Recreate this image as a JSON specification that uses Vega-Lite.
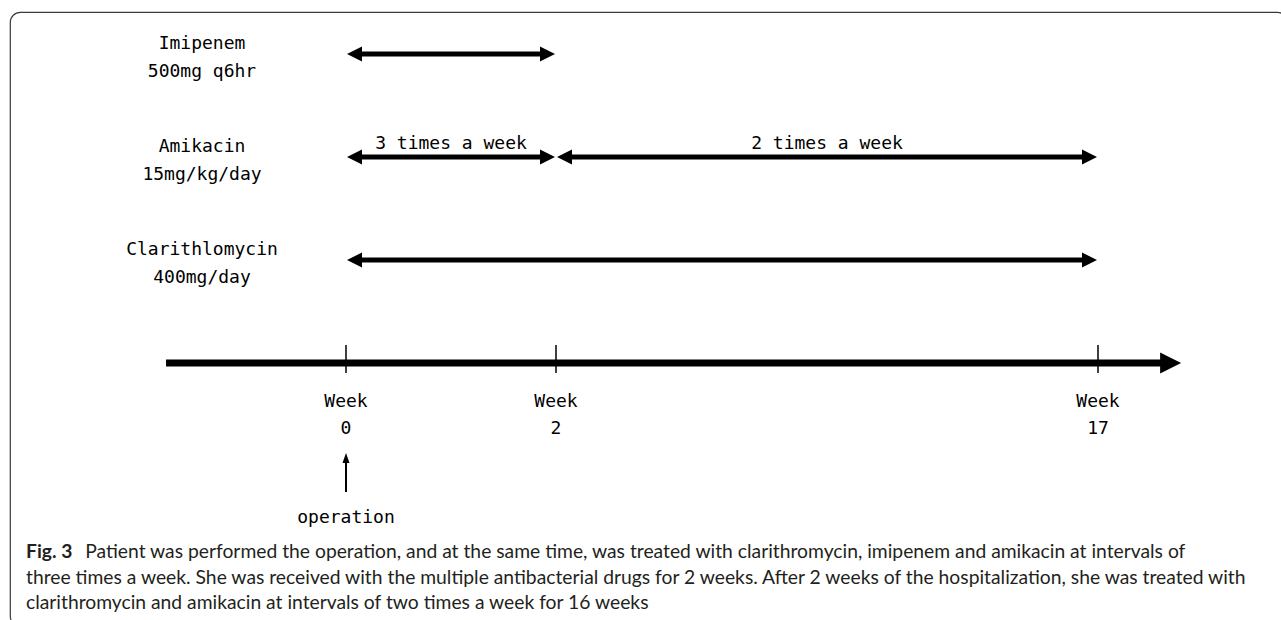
{
  "$schema": "https://vega.github.io/schema/vega-lite/v6.json",
  "width": 1281,
  "height": 620,
  "autosize": {"type": "fit", "contains": "padding"},
  "padding": {"left": 10, "top": 12, "right": -6, "bottom": -6},
  "background": "white",
  "title": {
    "text": "Fig. 3",
    "subtitle": [
      "\u200b\u00a0\u00a0\u00a0\u00a0\u00a0\u00a0\u00a0\u00a0\u00a0\u00a0\u00a0\u00a0Patient was performed the operation, and at the same time, was treated with clarithromycin, imipenem and amikacin at intervals of",
      "three times a week. She was received with the multiple antibacterial drugs for 2 weeks. After 2 weeks of the hospitalization, she was treated with",
      "clarithromycin and amikacin at intervals of two times a week for 16 weeks"
    ],
    "orient": "bottom",
    "anchor": "start",
    "frame": "group",
    "offset": -83,
    "dx": 16,
    "font": "Lato",
    "fontSize": 19.3,
    "fontWeight": "bold",
    "color": "#231f20",
    "subtitleFont": "Lato",
    "subtitleFontSize": 19.3,
    "subtitleFontWeight": "normal",
    "subtitleColor": "#231f20",
    "subtitleLineHeight": 25.5,
    "subtitlePadding": -19.3
  },
  "datasets": {
    "arrows": [
      {"drug": "Imipenem", "level": 1, "week": 0, "week2": 2, "note": ""},
      {"drug": "Amikacin", "level": 2, "week": 0, "week2": 2, "note": "3 times a week"},
      {"drug": "Amikacin", "level": 2, "week": 2, "week2": 17, "note": "2 times a week"},
      {"drug": "Clarithlomycin", "level": 3, "week": 0, "week2": 17, "note": ""}
    ],
    "labels": [
      {"level": 1, "week": 0, "label": "Imipenem\n500mg q6hr"},
      {"level": 2, "week": 0, "label": "Amikacin\n15mg/kg/day"},
      {"level": 3, "week": 0, "label": "Clarithlomycin\n400mg/day"}
    ],
    "timeline": [
      {"level": 4, "week": -1.714, "week2": 19.3}
    ],
    "ticks": [
      {"level": 4, "week": 0, "label": "Week\n0"},
      {"level": 4, "week": 2, "label": "Week\n2"},
      {"level": 4, "week": 17, "label": "Week\n17"}
    ],
    "operation": [
      {"level": 4, "week": 0, "label": "operation"}
    ]
  },
  "encoding": {
    "x": {"field": "week", "type": "quantitative", "axis": null,
          "scale": {"type": "linear", "domain": [0, 2, 17], "range": [336, 546, 1088], "zero": false, "nice": false}},
    "y": {"field": "level", "type": "quantitative", "axis": null,
          "scale": {"type": "linear", "domain": [1, 4], "range": [42, 351], "zero": false, "nice": false}}
  },
  "layer": [
    {
      "data": {"name": "arrows"},
      "mark": {"type": "rule", "color": "black", "strokeWidth": 5, "xOffset": 10, "x2Offset": -10},
      "encoding": {"x2": {"field": "week2"}}
    },
    {
      "data": {"name": "arrows"},
      "mark": {"type": "point", "shape": "M0,0L1,-0.5L1,0.5Z", "size": 900, "filled": true, "opacity": 1, "color": "black", "xOffset": 1}
    },
    {
      "data": {"name": "arrows"},
      "mark": {"type": "point", "shape": "M0,0L-1,-0.5L-1,0.5Z", "size": 900, "filled": true, "opacity": 1, "color": "black", "xOffset": -1},
      "encoding": {"x": {"field": "week2", "type": "quantitative"}}
    },
    {
      "data": {"name": "arrows"},
      "transform": [{"calculate": "(datum.week + datum.week2) / 2", "as": "mid"}],
      "mark": {"type": "text", "font": "DejaVu Sans Mono", "fontSize": 18, "color": "black", "baseline": "alphabetic", "dy": -8},
      "encoding": {"x": {"field": "mid", "type": "quantitative"}, "text": {"field": "note"}}
    },
    {
      "data": {"name": "labels"},
      "mark": {"type": "text", "font": "DejaVu Sans Mono", "fontSize": 18, "color": "black", "baseline": "middle", "lineBreak": "\n", "lineHeight": 28, "dx": -144, "dy": -10},
      "encoding": {"text": {"field": "label"}}
    },
    {
      "data": {"name": "timeline"},
      "mark": {"type": "rule", "color": "black", "strokeWidth": 7, "x2Offset": -18},
      "encoding": {"x2": {"field": "week2"}}
    },
    {
      "data": {"name": "timeline"},
      "mark": {"type": "point", "shape": "M0,0L-1,-0.5L-1,0.5Z", "size": 1764, "filled": true, "opacity": 1, "color": "black"},
      "encoding": {"x": {"field": "week2", "type": "quantitative"}}
    },
    {
      "data": {"name": "ticks"},
      "mark": {"type": "rule", "color": "black", "strokeWidth": 1.5, "yOffset": -18, "y2Offset": 10},
      "encoding": {"y2": {"field": "level"}}
    },
    {
      "data": {"name": "ticks"},
      "mark": {"type": "text", "font": "DejaVu Sans Mono", "fontSize": 18, "color": "black", "baseline": "middle", "lineBreak": "\n", "lineHeight": 27, "dy": 39},
      "encoding": {"text": {"field": "label"}}
    },
    {
      "data": {"name": "operation"},
      "mark": {"type": "rule", "color": "black", "strokeWidth": 2, "yOffset": 96, "y2Offset": 129},
      "encoding": {"y2": {"field": "level"}}
    },
    {
      "data": {"name": "operation"},
      "mark": {"type": "point", "shape": "M0,0L-0.35,1L0.35,1Z", "size": 400, "filled": true, "opacity": 1, "color": "black", "yOffset": 90}
    },
    {
      "data": {"name": "operation"},
      "mark": {"type": "text", "font": "DejaVu Sans Mono", "fontSize": 18, "color": "black", "baseline": "middle", "dy": 155},
      "encoding": {"text": {"field": "label"}}
    }
  ],
  "config": {
    "view": {"stroke": "#3a3a3a", "strokeWidth": 1.2, "cornerRadius": 10}
  }
}
